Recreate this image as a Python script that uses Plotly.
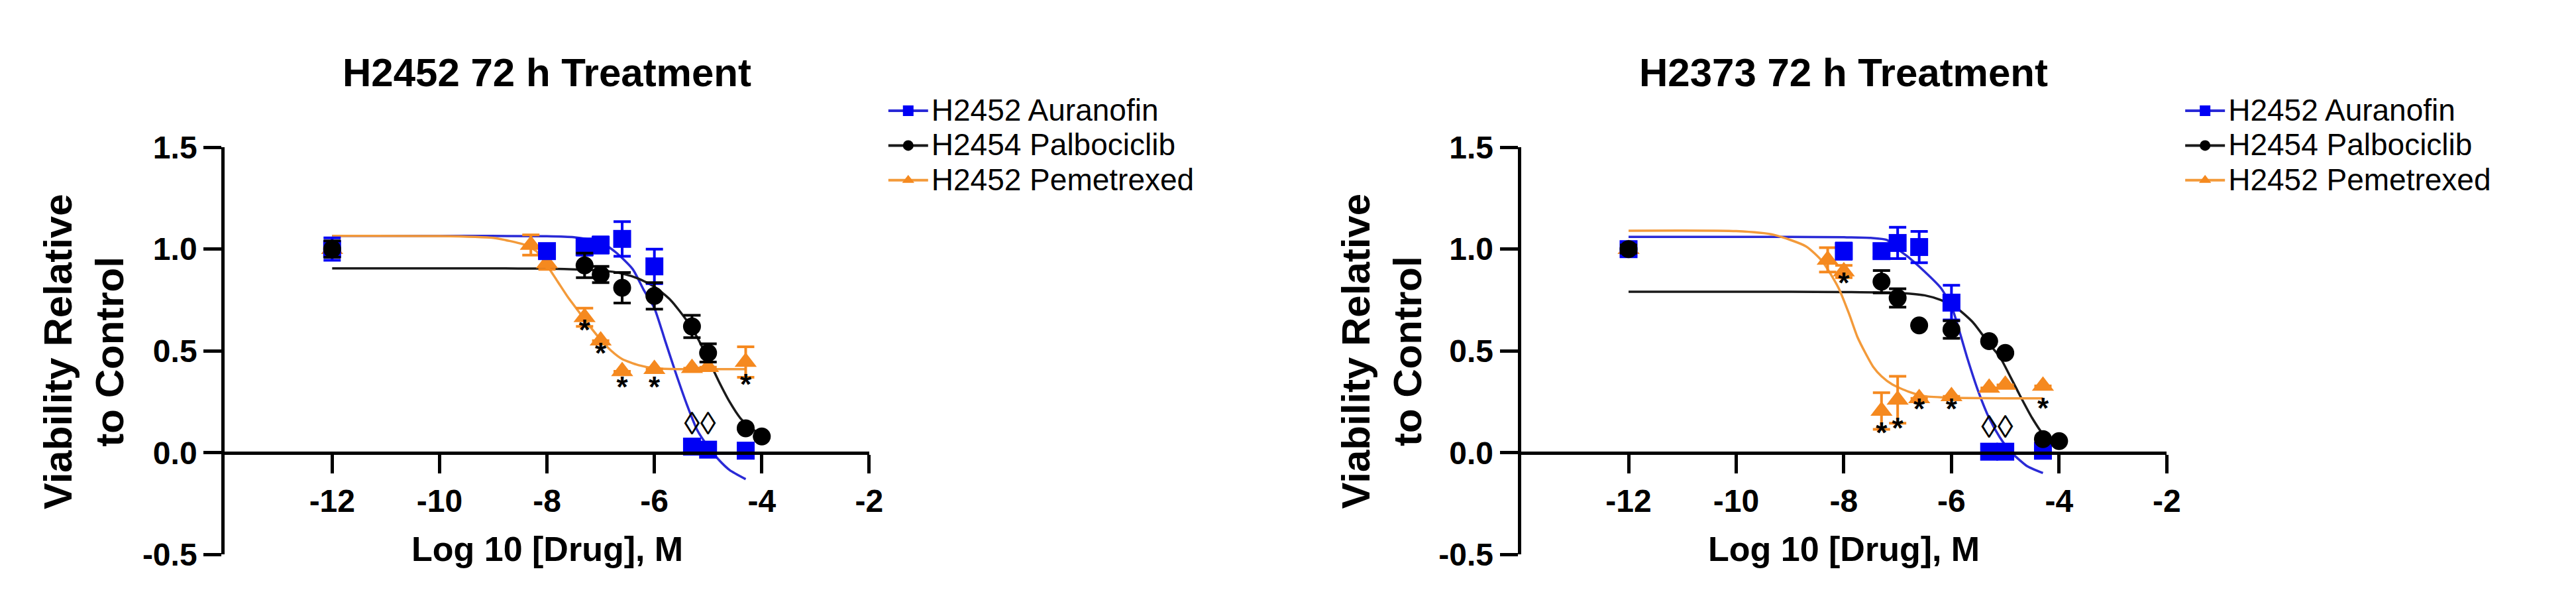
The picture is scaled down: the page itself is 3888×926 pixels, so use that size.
import plotly.graph_objects as go

W, H = 3888, 926
FONT = "Arial, Liberation Sans, sans-serif"

names = ["H2452 Auranofin", "H2454 Palbociclib", "H2452 Pemetrexed"]
panel_titles = ["H2452 72 h Treatment", "H2373 72 h Treatment"]

x_ticks = [-12, -10, -8, -6, -4, -2]
x_tick_text = ["-12", "-10", "-8", "-6", "-4", "-2"]
y_ticks = [-0.5, 0.0, 0.5, 1.0, 1.5]
y_tick_text = ["-0.5", "0.0", "0.5", "1.0", "1.5"]

# ---- H2452 panel (left) ----
aur_x_L = [-12, -8, -7.3, -7, -6.6, -6, -5.3, -5, -4.3]
aur_y_L = [1.0, 0.99, 1.01, 1.02, 1.05, 0.915, 0.03, 0.015, 0.01]
aur_e_L = [0.055, 0.03, 0.04, 0.04, 0.085, 0.085, 0, 0, 0]
pal_x_L = [-12, -7.3, -7, -6.6, -6, -5.3, -5, -4.3, -4]
pal_y_L = [1.0, 0.92, 0.875, 0.81, 0.77, 0.62, 0.49, 0.12, 0.08]
pal_e_L = [0.04, 0.06, 0.04, 0.075, 0.065, 0.055, 0.045, 0, 0]
pem_x_L = [-12, -8.3, -8, -7.3, -7, -6.6, -6, -5.3, -5, -4.3]
pem_y_L = [1.0, 1.02, 0.93, 0.665, 0.55, 0.40, 0.41, 0.415, 0.42, 0.445]
pem_e_L = [0, 0.05, 0.03, 0.045, 0, 0, 0, 0, 0, 0.075]
star_x_L = [-7.3, -7, -6.6, -6, -4.3]
star_y_L = [0.59, 0.475, 0.31, 0.31, 0.32]
diam_x_L = [-5.3, -5]
diam_y_L = [0.13, 0.13]

# fitted curves
aur_fx_L = [-12, -10, -8, -7.5, -7, -6.7, -6.4, -6.2, -6.0, -5.8, -5.6, -5.4, -5.2, -5.0, -4.8, -4.6, -4.3]
aur_fy_L = [1.065, 1.065, 1.063, 1.058, 1.035, 0.98, 0.9, 0.8, 0.71, 0.55, 0.39, 0.24, 0.11, 0.03, -0.035, -0.085, -0.13]
pal_fx_L = [-12, -9, -8, -7.5, -7, -6.6, -6.3, -6, -5.7, -5.4, -5.2, -5.0, -4.8, -4.6, -4.4, -4.2, -4.0]
pal_fy_L = [0.905, 0.905, 0.904, 0.9, 0.895, 0.88, 0.855, 0.815, 0.75, 0.65, 0.565, 0.46, 0.35, 0.25, 0.17, 0.12, 0.09]
pem_fx_L = [-12, -10, -9, -8.7, -8.4, -8.2, -8.0, -7.8, -7.6, -7.4, -7.2, -7.0, -6.8, -6.6, -6.3, -6.0, -5.5, -5, -4.3]
pem_fy_L = [1.065, 1.064, 1.055, 1.04, 1.02, 0.99, 0.92, 0.84, 0.76, 0.69, 0.62, 0.555, 0.5, 0.46, 0.43, 0.415, 0.41, 0.41, 0.41]

# ---- H2373 panel (right) ----
aur_x_R = [-12, -8, -7.3, -7, -6.6, -6, -5.3, -5, -4.3]
aur_y_R = [1.0, 0.99, 0.99, 1.03, 1.01, 0.737, 0.005, 0.005, 0.01]
aur_e_R = [0.02, 0.04, 0.03, 0.077, 0.077, 0.085, 0, 0, 0]
pal_x_R = [-12, -7.3, -7, -6.6, -6, -5.3, -5, -4.3, -4]
pal_y_R = [1.0, 0.84, 0.76, 0.625, 0.605, 0.548, 0.49, 0.067, 0.057]
pal_e_R = [0.02, 0.055, 0.045, 0, 0.043, 0, 0, 0, 0]
pem_x_R = [-12, -8.3, -8, -7.3, -7, -6.6, -6, -5.3, -5, -4.3]
pem_y_R = [1.0, 0.947, 0.89, 0.205, 0.26, 0.267, 0.277, 0.318, 0.333, 0.328]
pem_e_R = [0, 0.06, 0.03, 0.09, 0.115, 0, 0, 0, 0, 0]
star_x_R = [-8, -7.3, -7, -6.6, -6, -4.3]
star_y_R = [0.82, 0.083, 0.108, 0.2, 0.2, 0.205]
diam_x_R = [-5.3, -5]
diam_y_R = [0.113, 0.113]

aur_fx_R = [-12, -9, -8, -7.5, -7.2, -7.0, -6.8, -6.5, -6.2, -6.0, -5.9, -5.7, -5.5, -5.3, -5.1, -4.9, -4.6, -4.3]
aur_fy_R = [1.06, 1.06, 1.058, 1.055, 1.045, 1.0, 0.96, 0.89, 0.81, 0.72, 0.64, 0.46, 0.30, 0.17, 0.075, 0.005, -0.065, -0.10]
pal_fx_R = [-12, -9, -8, -7, -6.5, -6.2, -5.9, -5.6, -5.3, -5.1, -4.9, -4.7, -4.5, -4.3, -4.0]
pal_fy_R = [0.79, 0.79, 0.789, 0.785, 0.773, 0.75, 0.71, 0.64, 0.535, 0.47, 0.37, 0.267, 0.17, 0.092, 0.035]
pem_fx_R = [-12, -10, -9.3, -8.7, -8.4, -8.1, -7.9, -7.75, -7.6, -7.45, -7.3, -7.1, -6.8, -6.5, -6.0, -5.0, -4.3]
pem_fy_R = [1.09, 1.088, 1.07, 1.013, 0.94, 0.81, 0.68, 0.57, 0.49, 0.42, 0.375, 0.335, 0.3, 0.278, 0.27, 0.267, 0.267]

BLUE = "#0000f5"
BLACK = "#000000"
ORANGE = "#f5891f"
BLUE_LINE = "#2a2ad6"
BLACK_LINE = "#1a1a1a"
ORANGE_LINE = "#f39a3a"
symbols = ["square", "circle", "triangle-up"]
msizes = [27, 27, 29]
mcolors = [BLUE, BLACK, ORANGE]
lcolors = [BLUE_LINE, BLACK_LINE, ORANGE_LINE]

fig = go.Figure()


def add_panel(xa, ya, pts, curves, stars, diams, legend):
    # curves under the points
    for (fx, fy), lc in zip(curves, lcolors):
        fig.add_trace(go.Scatter(x=fx, y=fy, mode="lines", line=dict(color=lc, width=3.5, shape="spline", smoothing=0.6),
                                 xaxis=xa, yaxis=ya, showlegend=False, hoverinfo="skip"))
    # draw order: pemetrexed, auranofin, palbociclib
    for i in [2, 0, 1]:
        px_, py_, pe_ = pts[i]
        fig.add_trace(go.Scatter(x=px_, y=py_, mode="markers",
                                 marker=dict(symbol=symbols[i], size=msizes[i], color=mcolors[i], line=dict(width=0)),
                                 error_y=dict(type="data", array=pe_, color=mcolors[i], thickness=4, width=13),
                                 xaxis=xa, yaxis=ya, showlegend=False, name=names[i]))
    fig.add_trace(go.Scatter(x=stars[0], y=stars[1], mode="text", text=["*"] * len(stars[0]),
                             textfont=dict(family=FONT, size=44, color="black", weight="bold"),
                             xaxis=xa, yaxis=ya, showlegend=False, hoverinfo="skip"))
    fig.add_trace(go.Scatter(x=diams[0], y=diams[1], mode="text", text=["◊"] * len(diams[0]),
                             textfont=dict(family=FONT, size=48, color="black"),
                             xaxis=xa, yaxis=ya, showlegend=False, hoverinfo="skip"))
    # legend entries (line + marker, like the original)
    for i in range(3):
        fig.add_trace(go.Scatter(x=[None], y=[None], mode="lines+markers",
                                 name='<span style="font-size:46px">' + names[i] + "</span>",
                                 marker=dict(symbol=symbols[i], size=16, color=mcolors[i]),
                                 line=dict(color=lcolors[i], width=4),
                                 xaxis=xa, yaxis=ya, legend=legend, legendrank=i + 1))


add_panel("x", "y",
          [(aur_x_L, aur_y_L, aur_e_L), (pal_x_L, pal_y_L, pal_e_L), (pem_x_L, pem_y_L, pem_e_L)],
          [(aur_fx_L, aur_fy_L), (pal_fx_L, pal_fy_L), (pem_fx_L, pem_fy_L)],
          (star_x_L, star_y_L), (diam_x_L, diam_y_L), "legend")
add_panel("x2", "y2",
          [(aur_x_R, aur_y_R, aur_e_R), (pal_x_R, pal_y_R, pal_e_R), (pem_x_R, pem_y_R, pem_e_R)],
          [(aur_fx_R, aur_fy_R), (pal_fx_R, pal_fy_R), (pem_fx_R, pem_fy_R)],
          (star_x_R, star_y_R), (diam_x_R, diam_y_R), "legend2")

# plot geometry (pixels of the 3888x926 page)
y_lo = 1 - 851 / H
y_hi = 1 - 199.5 / H
y_zero = 1 - 688.5 / H
dom_L = [333 / W, 1311 / W]
dom_R = [2300 / W, 3280 / W]

tickfont = dict(family=FONT, size=48, color="black", weight="bold")
xcommon = dict(range=[-14, -2], tickvals=x_ticks, ticktext=x_tick_text, showline=True, linewidth=5,
               linecolor="black", ticks="outside", ticklen=28, tickwidth=5, tickcolor="black",
               showgrid=False, zeroline=False, tickfont=tickfont, fixedrange=True,
               anchor="free", position=y_zero)
ycommon = dict(range=[-0.5, 1.5], tickvals=y_ticks, ticktext=y_tick_text, showline=True, linewidth=5,
               linecolor="black", ticks="outside", ticklen=27, tickwidth=5, tickcolor="black",
               showgrid=False, zeroline=False, tickfont=tickfont, domain=[y_lo, y_hi], fixedrange=True)
legcommon = dict(xanchor="left", yanchor="top", bgcolor="rgba(0,0,0,0)", itemwidth=60,
                 font=dict(family=FONT, size=38, color="black"))

fig.update_layout(
    width=W, height=H, margin=dict(l=0, r=0, t=0, b=0),
    plot_bgcolor="rgba(0,0,0,0)", paper_bgcolor="white",
    font=dict(family=FONT, color="black"),
    xaxis=dict(domain=dom_L, **xcommon),
    yaxis=dict(anchor="x", **ycommon),
    xaxis2=dict(domain=dom_R, **xcommon),
    yaxis2=dict(anchor="x2", **ycommon),
    legend=dict(x=1335 / W, y=1 - 108 / H, **legcommon),
    legend2=dict(x=3303 / W, y=1 - 108 / H, **legcommon),
)

anns = []
for dom, title, ytx in [(dom_L, panel_titles[0], 120), (dom_R, panel_titles[1], 2089)]:
    cx = (dom[0] + dom[1]) / 2
    anns.append(dict(x=cx, y=1 - 80 / H, xref="paper", yref="paper", text=title, showarrow=False,
                     xanchor="center", yanchor="middle", font=dict(family=FONT, size=60, weight="bold")))
    anns.append(dict(x=cx, y=1 - 842 / H, xref="paper", yref="paper", text="Log 10 [Drug], M", showarrow=False,
                     xanchor="center", yanchor="middle", font=dict(family=FONT, size=52, weight="bold")))
    anns.append(dict(x=ytx / W, y=1 - 526 / H, xref="paper", yref="paper", text="Viability Relative<br>to Control",
                     showarrow=False, textangle=-90, xanchor="center", yanchor="middle",
                     font=dict(family=FONT, size=60, weight="bold")))
fig.update_layout(annotations=anns)

fig.write_html("out.html")
